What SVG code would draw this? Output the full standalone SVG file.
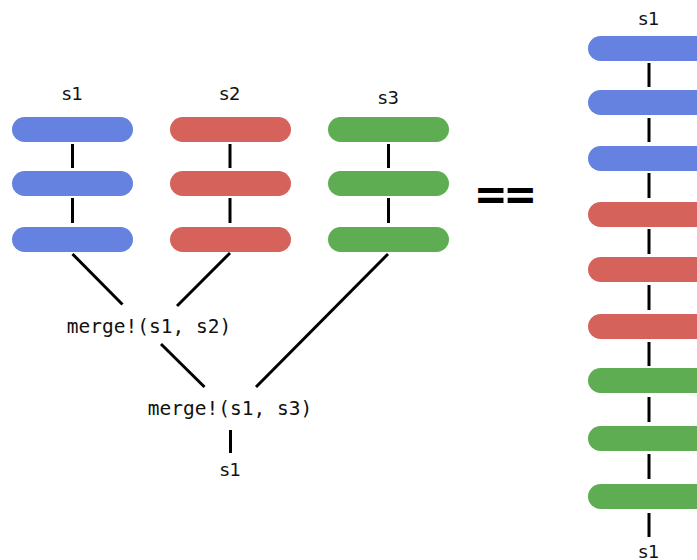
<svg xmlns="http://www.w3.org/2000/svg" width="697" height="560" viewBox="0 0 697 560">
  <style>
    .bar { stroke: none; }
    .blue { fill: #6582e0; }
    .red { fill: #d6625c; }
    .green { fill: #5fad52; }
    .name { font-family: "DejaVu Sans", "Open Sans", sans-serif; font-size: 18px; fill: #111; text-anchor: middle; }
    .code { font-family: "DejaVu Sans Mono", "Liberation Mono", monospace; font-size: 19.5px; fill: #111; text-anchor: middle; }
    .eq { font-family: "DejaVu Sans Mono", monospace; font-weight: bold; font-size: 44px; fill: #000; }
    .link { stroke: #000; stroke-width: 3; fill: none; }
  </style>
  <rect width="697" height="560" fill="#fff"/>

  <!-- stream s1 -->
  <g id="s1">
    <text class="name" x="72.5" y="100">s1</text>
    <rect class="bar blue" x="12" y="117" width="121" height="25" rx="12.5"/>
    <rect class="bar blue" x="12" y="171" width="121" height="25" rx="12.5"/>
    <rect class="bar blue" x="12" y="227" width="121" height="25" rx="12.5"/>
  </g>

  <!-- stream s2 -->
  <g id="s2">
    <text class="name" x="230" y="100">s2</text>
    <rect class="bar red" x="170" y="117" width="121" height="25" rx="12.5"/>
    <rect class="bar red" x="170" y="171" width="121" height="25" rx="12.5"/>
    <rect class="bar red" x="170" y="227" width="121" height="25" rx="12.5"/>
  </g>

  <!-- stream s3 -->
  <g id="s3">
    <text class="name" x="388.5" y="104">s3</text>
    <rect class="bar green" x="328" y="117" width="121" height="25" rx="12.5"/>
    <rect class="bar green" x="328" y="171" width="121" height="25" rx="12.5"/>
    <rect class="bar green" x="328" y="227" width="121" height="25" rx="12.5"/>
  </g>

  <!-- merge steps -->
  <g id="merge12">
    <text class="code" x="149" y="333">merge!(s1, s2)</text>
  </g>
  <g id="merge13">
    <text class="code" x="230" y="415">merge!(s1, s3)</text>
  </g>
  <g id="result">
    <text class="name" x="230.5" y="476">s1</text>
  </g>

  <!-- equality sign -->
  <g id="equals">
    <text class="eq" x="476" y="209" textLength="59" lengthAdjust="spacingAndGlyphs">==</text>
  </g>

  <!-- merged stream -->
  <g id="merged">
    <text class="name" x="649" y="25">s1</text>
    <rect class="bar blue" x="588" y="36" width="121" height="25" rx="12.5"/>
    <rect class="bar blue" x="588" y="90" width="121" height="25" rx="12.5"/>
    <rect class="bar blue" x="588" y="146" width="121" height="25" rx="12.5"/>
    <rect class="bar red" x="588" y="202" width="121" height="25" rx="12.5"/>
    <rect class="bar red" x="588" y="257" width="121" height="25" rx="12.5"/>
    <rect class="bar red" x="588" y="314" width="121" height="25" rx="12.5"/>
    <rect class="bar green" x="588" y="368" width="121" height="25" rx="12.5"/>
    <rect class="bar green" x="588" y="426" width="121" height="25" rx="12.5"/>
    <rect class="bar green" x="588" y="484" width="121" height="25" rx="12.5"/>
    <text class="name" x="649" y="558">s1</text>
  </g>

  <!-- connectors -->
  <g id="connectors" class="link">
    <line x1="72.5" y1="144" x2="72.5" y2="168"/>
    <line x1="72.5" y1="198" x2="72.5" y2="223"/>
    <line x1="230" y1="144" x2="230" y2="168"/>
    <line x1="230" y1="198" x2="230" y2="223"/>
    <line x1="388.5" y1="144" x2="388.5" y2="168"/>
    <line x1="388.5" y1="198" x2="388.5" y2="223"/>

    <line x1="72.5" y1="254" x2="122.5" y2="304.5"/>
    <line x1="230" y1="253" x2="177" y2="306"/>
    <line x1="161" y1="344" x2="204.5" y2="387"/>
    <line x1="388" y1="254" x2="256" y2="387"/>
    <line x1="230.5" y1="430" x2="230.5" y2="453"/>

    <line x1="649" y1="63" x2="649" y2="87"/>
    <line x1="649" y1="118" x2="649" y2="142"/>
    <line x1="649" y1="173" x2="649" y2="198"/>
    <line x1="649" y1="229" x2="649" y2="254"/>
    <line x1="649" y1="285" x2="649" y2="310"/>
    <line x1="649" y1="342" x2="649" y2="366"/>
    <line x1="649" y1="397" x2="649" y2="422"/>
    <line x1="649" y1="454" x2="649" y2="479"/>
    <line x1="649" y1="513" x2="649" y2="537"/>
  </g>
</svg>
